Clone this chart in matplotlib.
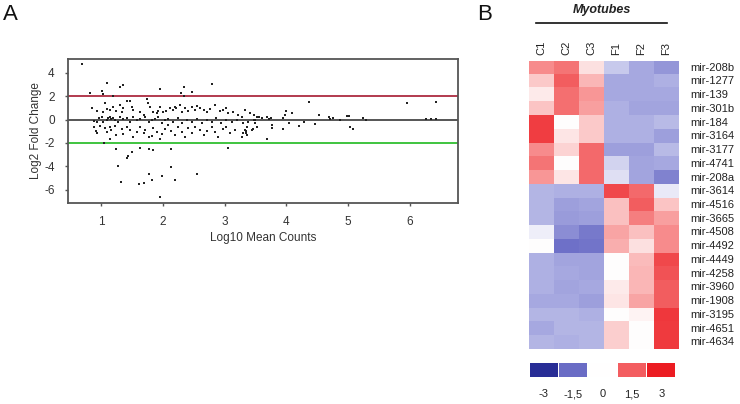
import numpy as np
import matplotlib
matplotlib.use("Agg")
import matplotlib.pyplot as plt
from matplotlib.colors import LinearSegmentedColormap

plt.rcParams['font.family'] = ['Liberation Sans', 'DejaVu Sans']
plt.rcParams['axes.unicode_minus'] = False

# ---------------- Panel A data (MA plot) ----------------
ma_x = [0.69, 0.83, 1.01, 1.04, 1.09, 1.31, 1.36, 1.20, 1.95, 2.29, 2.35, 2.47, 2.79, 2.35,
        0.85, 0.93, 1.04, 1.09, 1.07, 1.15, 1.20, 1.25, 1.31, 1.34, 1.36, 1.42, 1.47, 1.50, 1.52,
        1.63, 1.69, 1.74, 1.76, 1.79, 1.85, 1.90, 1.93, 1.95, 2.01, 2.06, 2.12, 2.17, 2.20, 2.22,
        2.28, 2.31, 2.36, 2.41, 2.47, 2.52, 2.55, 2.60, 2.66, 2.71, 2.76, 2.85, 2.93, 2.98, 3.03,
        3.06, 3.14, 3.22, 3.28, 3.33, 3.41, 3.47, 3.52,
        0.88, 0.93, 0.96, 1.01, 1.04, 1.09, 1.12, 1.15, 1.17, 1.20, 1.23, 1.28, 1.31, 1.36, 1.42,
        1.47, 1.52, 1.58, 1.63, 1.71, 1.77, 1.82, 1.87, 1.93, 1.98, 2.04, 2.09, 2.17, 2.25, 2.31,
        2.39, 2.47, 2.55, 2.63, 2.71, 2.79, 2.87, 2.95, 3.03, 3.12, 3.20, 3.30, 3.38, 3.47,
        0.88, 0.92, 0.94, 0.98, 1.07, 1.09, 1.15, 1.17, 1.23, 1.25, 1.34, 1.36, 1.42, 1.47, 1.52,
        1.58, 1.63, 1.69, 1.71, 1.77, 1.82, 1.85, 1.90, 1.95, 1.98, 2.04, 2.09, 2.14, 2.20, 2.25,
        2.31, 2.36, 2.41, 2.47, 2.52, 2.60, 2.66, 2.71, 2.79, 2.85, 2.90, 2.98, 3.03, 3.09, 3.17,
        3.28, 3.30, 3.36, 3.44,
        1.05, 1.15, 1.25, 1.63, 1.77, 1.85, 2.14, 3.06,
        1.28, 1.42, 1.44, 1.51, 1.32, 1.62, 1.70, 1.78, 1.83, 1.95, 1.98, 2.14, 2.20, 2.55,
        4.36, 5.96, 6.42, 6.27, 6.35, 6.43, 5.03, 5.08, 4.69, 4.53, 4.87, 4.98, 5.01, 5.24, 5.29,
        4.71, 4.76, 4.10, 3.95, 4.00, 3.98, 4.05, 4.20, 4.28, 4.46, 3.68, 3.77, 3.77, 3.94, 3.56,
        3.60, 3.68, 3.72, 3.76, 3.49, 3.49, 3.33, 3.34, 3.35, 3.36, 3.46, 3.52]
ma_y = [4.74, 2.32, 2.49, 2.20, 3.18, 2.83, 2.95, 2.03, 2.61, 2.26, 2.83, 2.38, 3.03, 2.03,
        0.98, 0.75, 0.69, 0.89, 1.40, 0.83, 1.12, 0.77, 1.26, 0.69, 0.98, 1.60, 1.63, 1.12, 0.83,
        0.69, 0.40, 1.75, 1.46, 1.12, 0.69, 0.55, 0.77, 1.12, 0.69, 0.77, 0.98, 0.83, 1.12, 1.03,
        1.26, 0.69, 0.98, 0.77, 1.12, 0.83, 1.20, 0.98, 0.83, 0.69, 0.92, 1.26, 0.77, 0.83, 0.98,
        0.55, 0.69, 0.40, 0.26, 0.83, 0.60, 0.40, 0.26,
        -0.08, -0.17, 0.12, 0.20, -0.17, -0.03, 0.12, 0.20, 0.03, 0.12, -0.03, -0.17, 0.26, 0.03, 0.12,
        -0.17, 0.20, -0.03, 0.09, 0.20, -0.17, -0.03, 0.03, 0.20, -0.31, -0.03, 0.03, -0.17, 0.12, -0.26,
        -0.03, -0.17, 0.03, -0.26, -0.03, -0.17, 0.12, -0.31, -0.03, -0.17, -0.03, -0.26, -0.17, -0.03,
        -0.66, -0.94, -1.17, -0.54, -0.74, -1.03, -0.60, -0.88, -0.54, -1.31, -0.83, -1.23, -0.66, -0.88, -1.46,
        -1.03, -0.66, -1.17, -0.88, -1.46, -1.43, -0.74, -1.03, -1.66, -1.23, -0.83, -0.45, -0.94, -1.31, -0.66,
        -1.03, -1.51, -0.74, -1.17, -0.60, -0.88, -1.31, -0.94, -0.66, -1.03, -1.46, -0.83, -0.60, -1.17, -0.88,
        -1.46, -1.17, -0.66, -0.88,
        -2.03, -1.69, -2.52, -2.46, -2.52, -2.60, -2.52, -2.46,
        -3.97, -3.32, -3.12, -2.74, -5.32, -5.55, -5.41, -4.66, -5.18, -6.66, -4.83, -4.09, -5.18, -4.66,
        1.52, 1.46, 1.52, 0.06, 0.06, 0.06, -0.65, -0.77, 0.23, 0.40, 0.00, 0.27, 0.33, 0.10, 0.00,
        0.05, 0.10, 0.60, 0.10, 0.70, 0.40, -0.30, -0.54, -0.20, -0.35, -1.65, -0.45, -0.70, -0.80, 0.20,
        0.15, 0.20, 0.05, 0.15, -0.05, -0.30, -0.90, -1.00, -1.15, -1.30, -0.80, -0.60]
threshold_lines = [2, 0, -2]
x_ticks = [1, 2, 3, 4, 5, 6]
y_ticks = [4, 2, 0, -2, -4, -6]

# ---------------- Panel B data (heatmap) ----------------
samples = ["C1", "C2", "C3", "F1", "F2", "F3"]
mirnas = ["mir-208b", "mir-1277", "mir-139", "mir-301b", "mir-184", "mir-3164", "mir-3177",
          "mir-4741", "mir-208a", "mir-3614", "mir-4516", "mir-3665", "mir-4508", "mir-4492",
          "mir-4449", "mir-4258", "mir-3960", "mir-1908", "mir-3195", "mir-4651", "mir-4634"]
heat_values = [
    [1.1, 1.3, 0.3, -0.5, -0.8, -1.0],
    [0.5, 1.5, 0.7, -0.8, -0.8, -0.75],
    [0.2, 1.35, 1.0, -0.8, -0.8, -0.8],
    [0.55, 1.35, 0.9, -0.75, -0.85, -0.85],
    [1.8, 0.0, 0.5, -0.75, -0.75, -0.65],
    [1.8, 0.25, 0.5, -0.75, -0.75, -0.9],
    [1.1, 0.4, 1.4, -0.9, -0.9, -0.65],
    [1.3, 0.0, 1.4, -0.4, -0.85, -0.8],
    [1.0, 0.25, 1.4, -0.3, -0.85, -1.2],
    [-0.7, -0.75, -0.75, 1.7, 1.4, -0.2],
    [-0.7, -0.9, -0.85, 0.6, 1.5, 0.55],
    [-0.7, -0.95, -0.9, 0.6, 1.2, 0.9],
    [-0.15, -1.1, -1.3, 0.85, 0.6, 1.1],
    [0.0, -1.4, -1.35, 0.75, 0.3, 1.1],
    [-0.75, -0.85, -0.85, 0.0, 0.65, 1.7],
    [-0.75, -0.8, -0.85, 0.0, 0.7, 1.6],
    [-0.75, -0.85, -0.8, 0.2, 0.7, 1.5],
    [-0.8, -0.8, -0.9, 0.25, 0.85, 1.5],
    [-0.7, -0.7, -0.75, 0.0, 0.1, 2.0],
    [-0.8, -0.7, -0.7, 0.45, 0.0, 1.9],
    [-0.7, -0.75, -0.7, 0.45, 0.0, 1.9],
]
legend_values = [-3, -1.5, 0, 1.5, 3]
legend_labels = ["-3", "-1,5", "0", "1,5", "3"]

# colormap
nodes = [(-3.0, (40, 45, 150)), (-1.4, (110, 112, 200)), (-0.8, (168, 170, 225)),
         (0.0, (255, 255, 255)), (1.0, (248, 150, 150)), (1.8, (240, 62, 66)),
         (3.0, (236, 28, 34))]
cmap = LinearSegmentedColormap.from_list(
    "bwr_custom", [((v + 3) / 6, tuple(c / 255 for c in col)) for v, col in nodes])

W, H = 740, 404
fig = plt.figure(figsize=(W / 100, H / 100), dpi=100)

def fx(px):
    return px / W

def fy(py):
    return 1 - py / H

# ---------- Panel A ----------
axA = fig.add_axes([fx(68), fy(203), fx(458) - fx(68), fy(59) - fy(203)])
axA.scatter(ma_x, ma_y, s=0.9, marker='s', color='#222222', linewidths=0, zorder=3)
line_colors = ['#b23a4e', '#555555', '#3fc43f']
for yv, c in zip(threshold_lines, line_colors):
    axA.axhline(yv, color=c, lw=1.4, zorder=2)
axA.set_xlim(0.466, 6.78)
axA.set_ylim(-7.15, 5.2)
axA.set_xticks(x_ticks)
axA.set_yticks(y_ticks)
axA.tick_params(direction='out', length=2.5, width=1, color='#555555', labelsize=8.5,
                labelcolor='#333333')
axA.tick_params(axis='y', pad=7)
axA.tick_params(axis='x', pad=7)
for s in axA.spines.values():
    s.set_color('#555555')
    s.set_linewidth(1.3)
axA.set_xlabel("Log10 Mean Counts", fontsize=8.5, color='#333333', labelpad=3)
axA.set_ylabel("Log2 Fold Change", fontsize=8.5, color='#333333', labelpad=2)
fig.text(fx(3), fy(4), "A", fontsize=16, va='top', ha='left', color='#111111')

# ---------- Panel B ----------
nrow, ncol = len(mirnas), len(samples)
axB = fig.add_axes([fx(529), fy(349.3), fx(679) - fx(529), fy(60.7) - fy(349.3)])
axB.imshow(np.array(heat_values), cmap=cmap, vmin=-3, vmax=3, aspect='auto',
           interpolation='nearest')
axB.set_xticks([])
axB.set_yticks([])
for s in axB.spines.values():
    s.set_visible(False)
for i, name in enumerate(mirnas):
    axB.text(ncol - 0.5 + 0.45, i, name, fontsize=8, va='center', ha='left', color='#222222')
for j, name in enumerate(samples):
    axB.text(j, -0.9, name, fontsize=8, rotation=90, ha='center', va='bottom', color='#222222')

fig.add_artist(plt.Line2D([fx(536), fx(667)], [fy(23.3), fy(23.3)], color='#111111', lw=1.2))
fig.text(fx(602), fy(9.5), "Myotubes", fontsize=9, fontweight='bold', fontstyle='italic',
         ha='center', va='center', color='#222222')
fig.text(fx(477), fy(4), "B", fontsize=16, va='top', ha='left', color='#111111')

# legend boxes
axL = fig.add_axes([fx(529), fy(376.7), fx(676) - fx(529), fy(363.3) - fy(376.7)])
xs = np.arange(len(legend_values))
axL.bar(xs, [1] * len(xs), width=0.96, color=cmap((np.array(legend_values) + 3) / 6),
        edgecolor='none')
axL.set_xlim(-0.5, len(xs) - 0.5)
axL.set_ylim(0, 1)
axL.set_xticks(xs)
axL.set_xticklabels(legend_labels)
axL.set_yticks([])
axL.tick_params(length=0, labelsize=8, labelcolor='#222222', pad=9)
for s in axL.spines.values():
    s.set_visible(False)

fig.savefig("out.png", dpi=100)
